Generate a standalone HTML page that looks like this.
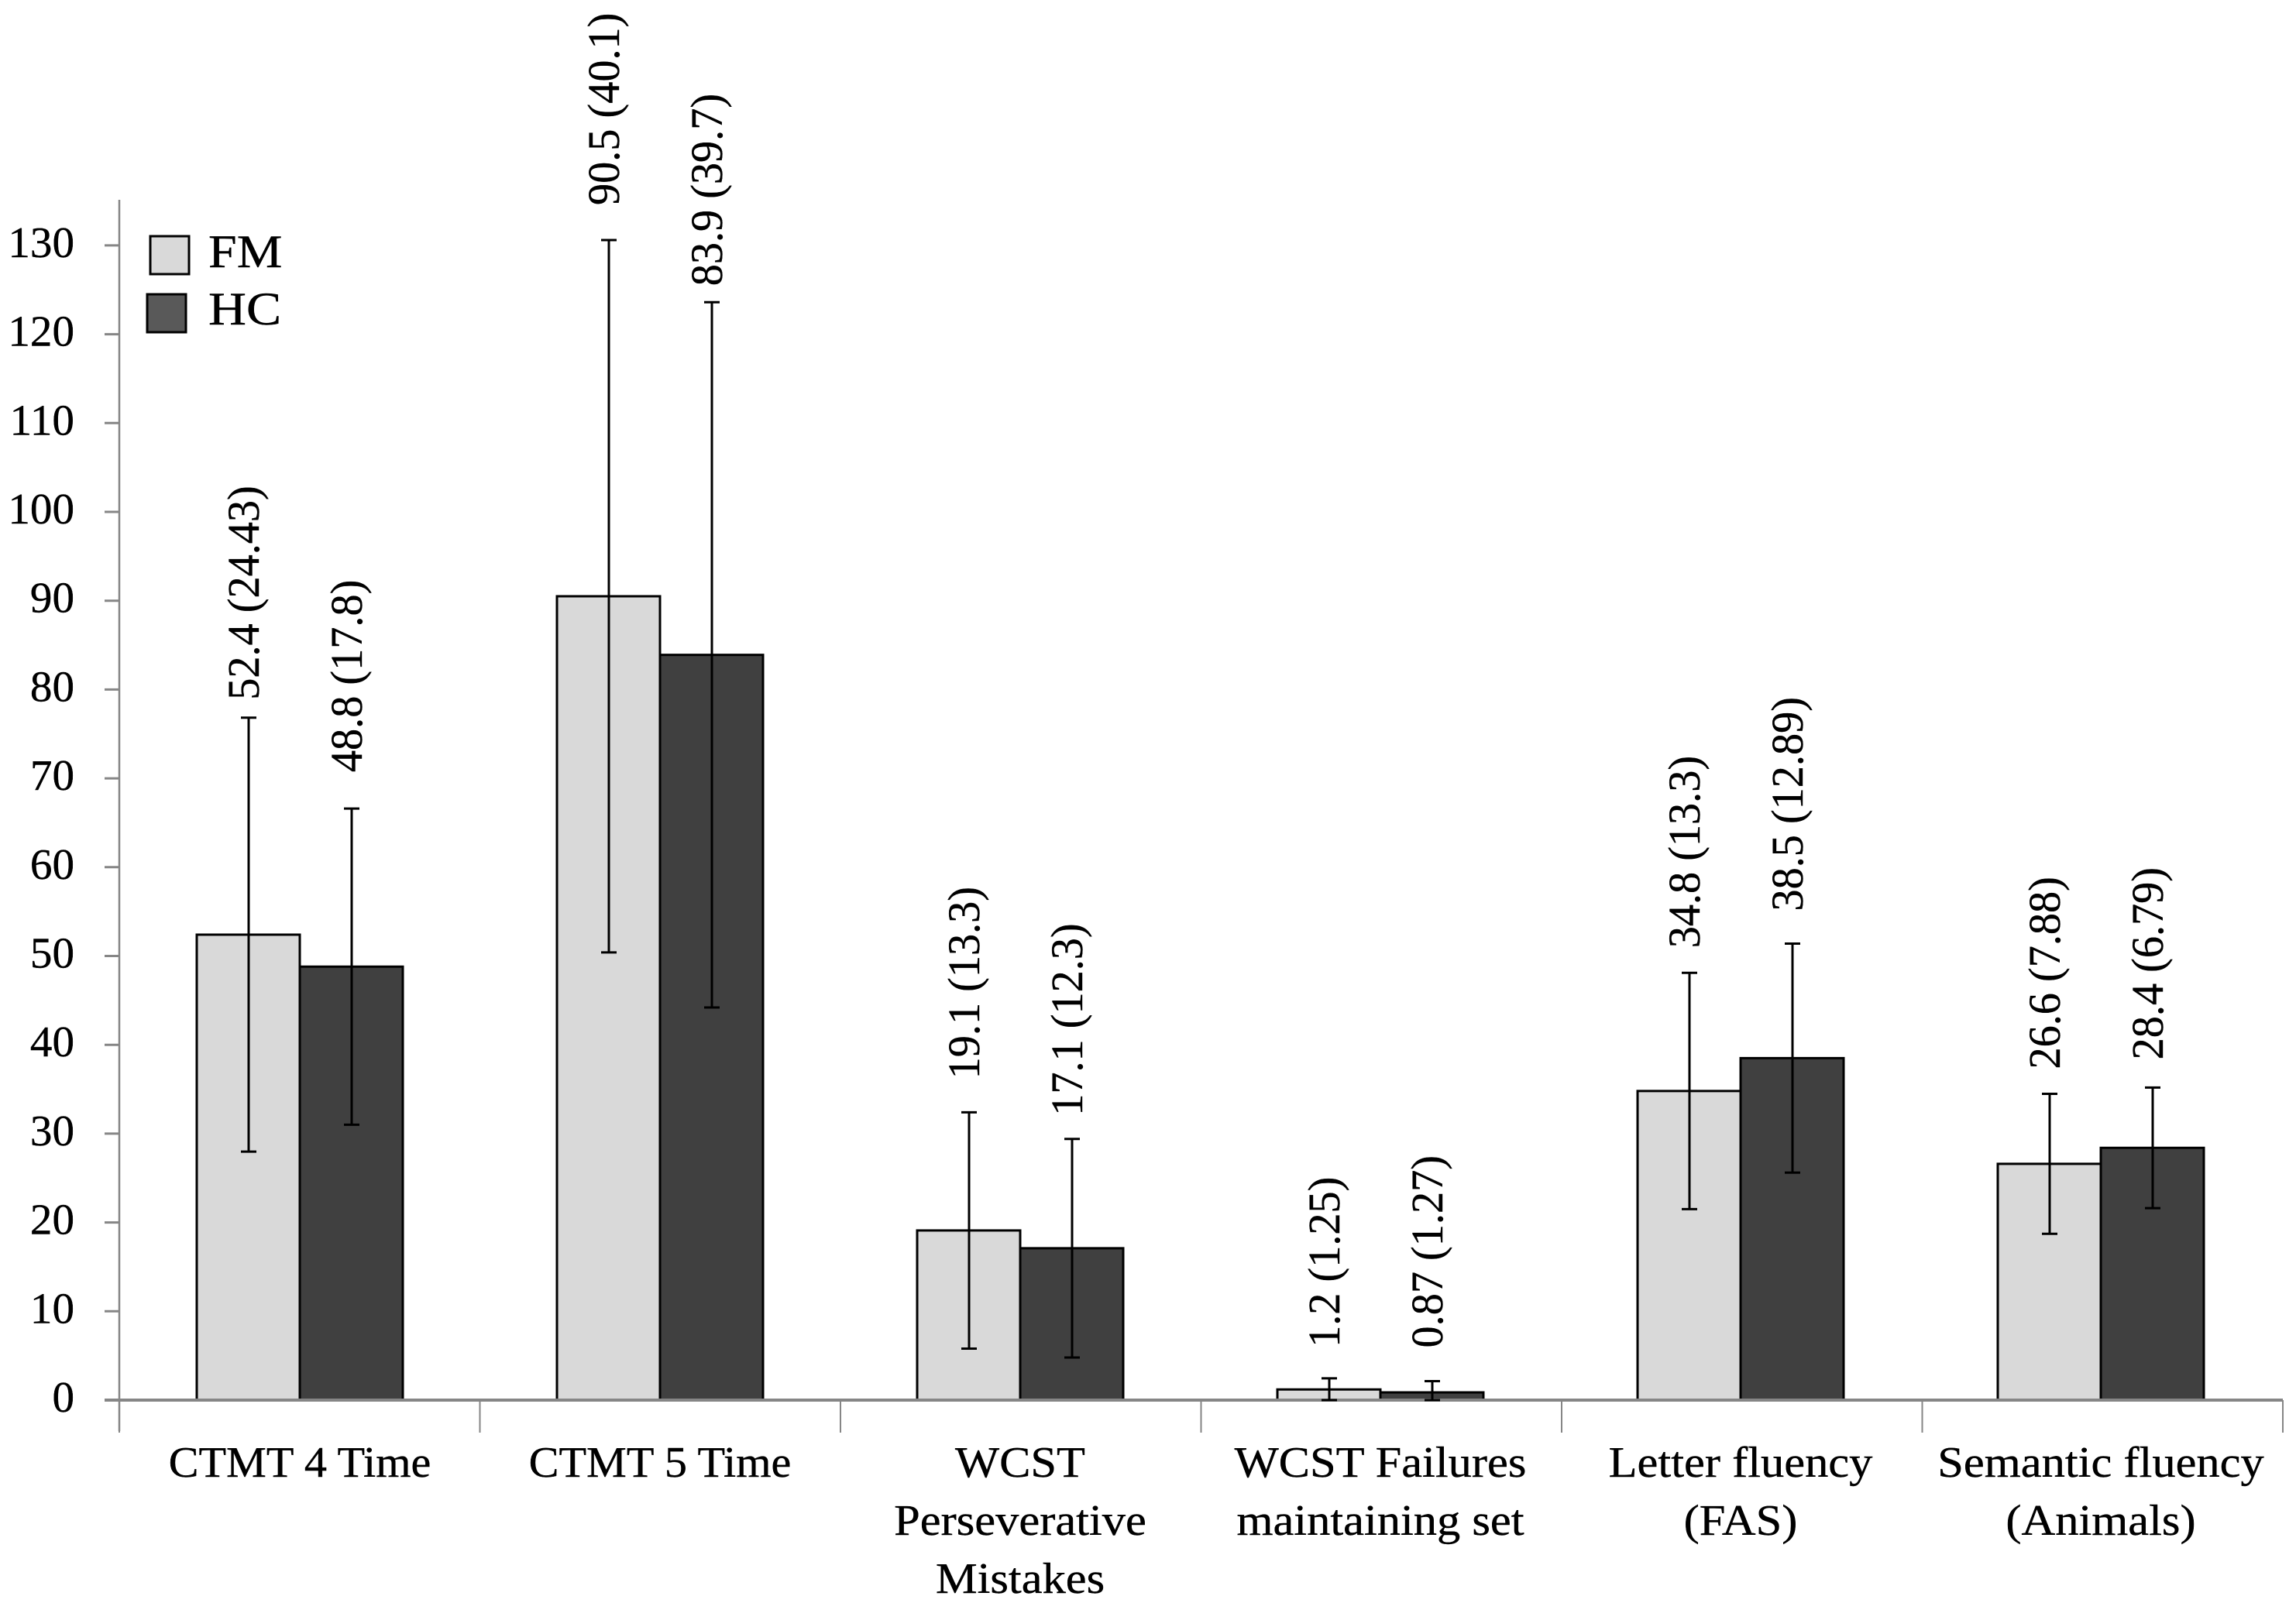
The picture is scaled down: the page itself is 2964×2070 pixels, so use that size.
<!DOCTYPE html>
<html lang="en">
<head>
<meta charset="utf-8">
<title>Neuropsychological test scores, FM vs HC</title>
<style>
  html, body { margin: 0; padding: 0; background: #fff; }
  svg { display: block; }
  text { font-family: "Liberation Serif", "DejaVu Serif", serif; fill: #000; stroke: #000; stroke-width: .4px; }
</style>
</head>
<body>
<svg id="chart" xmlns="http://www.w3.org/2000/svg" width="2964" height="2070" viewBox="0 0 2964 2070"></svg>
<script>
const categories = [
  ["CTMT 4 Time"],
  ["CTMT 5 Time"],
  ["WCST", "Perseverative", "Mistakes"],
  ["WCST Failures", "maintaining set"],
  ["Letter fluency", "(FAS)"],
  ["Semantic fluency", "(Animals)"]
];
const fmMeans = [52.4, 90.5, 19.1, 1.2, 34.8, 26.6];
const hcMeans = [48.8, 83.9, 17.1, 0.87, 38.5, 28.4];
const fmSds = [24.43, 40.1, 13.3, 1.25, 13.3, 7.88];
const hcSds = [17.8, 39.7, 12.3, 1.27, 12.89, 6.79];
const fmLabels = ["52.4 (24.43)", "90.5 (40.1)", "19.1 (13.3)", "1.2 (1.25)", "34.8 (13.3)", "26.6 (7.88)"];
const hcLabels = ["48.8 (17.8)", "83.9 (39.7)", "17.1 (12.3)", "0.87 (1.27)", "38.5 (12.89)", "28.4 (6.79)"];
const yTicks = [0, 10, 20, 30, 40, 50, 60, 70, 80, 90, 100, 110, 120, 130];

/* Layout only: hand-placed gap between each error-bar cap and its rotated label. */
const fmLabelGaps = [23, 45, 43, 40, 32, 32];
const hcLabelGaps = [47, 21, 30, 43, 42, 36];

const svg = document.getElementById('chart');
const NS = 'http://www.w3.org/2000/svg';
const AXIS = '#868686';
const baseY = 1808, unitY = 11.47;
const axisLeft = 154, axisRight = 2947, axisTop = 258;
const firstCenter = 387, centerStep = 465, barWidth = 133;

function yScale(v) { return baseY - v * unitY; }
function xCenter(i) { return firstCenter + centerStep * i; }
function make(tag, attrs, text) {
  const el = document.createElementNS(NS, tag);
  for (const k in attrs) el.setAttribute(k, attrs[k]);
  if (text !== undefined) el.textContent = text;
  svg.appendChild(el);
  return el;
}

/* Bars */
function drawBars(means, side, fill, series) {
  means.forEach(function (m, i) {
    const x = side < 0 ? xCenter(i) - barWidth : xCenter(i);
    const el = make('rect', { x: x, y: yScale(m), width: barWidth, height: baseY - yScale(m), fill: fill, stroke: '#000', 'stroke-width': 3 });
    
    
  });
}
drawBars(fmMeans, -1, '#d9d9d9', 'fm');
drawBars(hcMeans, 1, '#404040', 'hc');

/* Axes */
const yAxisLine = make('line', { x1: axisLeft, y1: axisTop, x2: axisLeft, y2: baseY + 40, stroke: AXIS, 'stroke-width': 2.5 });


const xAxisLine = make('line', { x1: 135, y1: baseY, x2: axisRight, y2: baseY, stroke: AXIS, 'stroke-width': 4 });



yTicks.forEach(function (t) {
  const tick = make('line', { x1: 135, y1: yScale(t), x2: axisLeft, y2: yScale(t), stroke: AXIS, 'stroke-width': 3 });
  
  
  const label = make('text', { 'font-size': 56, 'text-anchor': 'end', transform: 'translate(96,' + (yScale(t) + 15) + ') scale(1.02,1)' }, String(t));
  
  
});

for (let i = 0; i <= categories.length; i++) {
  const xt = axisLeft + (axisRight - axisLeft) * i / categories.length;
  const tick = make('line', { x1: xt, y1: baseY, x2: xt, y2: baseY + 42, stroke: AXIS, 'stroke-width': 2 });
  
  
}

categories.forEach(function (lines, i) {
  lines.forEach(function (line, j) {
    const stretch = /\d/.test(line) ? 1.04 : 1.08;
    const label = make('text', { 'font-size': 56, 'text-anchor': 'middle', transform: 'translate(' + xCenter(i) + ',' + (1907 + 75 * j) + ') scale(' + stretch + ',1)' }, line);
    
    
  });
});

/* Error bars and rotated value labels */
function drawErrors(means, sds, labels, gaps, side, series) {
  means.forEach(function (m, i) {
    const x = xCenter(i) + side * barWidth / 2 + 0.5;
    const top = yScale(m + sds[i]);
    const bottom = yScale(Math.max(0, m - sds[i]));
    const stem = make('line', { x1: x, y1: top, x2: x, y2: bottom, stroke: '#000', 'stroke-width': 3 });
    
    
    const capTop = make('line', { x1: x - 10, y1: top, x2: x + 10, y2: top, stroke: '#000', 'stroke-width': 3 });
    
    
    const capBottom = make('line', { x1: x - 10, y1: bottom, x2: x + 10, y2: bottom, stroke: '#000', 'stroke-width': 3 });
    
    
    const label = make('text', { 'font-size': 58, transform: 'translate(' + (x + 13) + ',' + (top - gaps[i]) + ') rotate(-90) scale(.97,1)' }, labels[i]);
    
    
  });
}
drawErrors(fmMeans, fmSds, fmLabels, fmLabelGaps, -1, 'fm');
drawErrors(hcMeans, hcSds, hcLabels, hcLabelGaps, 1, 'hc');

/* Legend */
const fmSwatch = make('rect', { x: 194, y: 305, width: 50, height: 49, fill: '#d9d9d9', stroke: '#000', 'stroke-width': 3 });


const fmText = make('text', { 'font-size': 60, transform: 'translate(269,345) scale(1.1,1)' }, 'FM');


const hcSwatch = make('rect', { x: 190, y: 380, width: 50, height: 49, fill: '#595959', stroke: '#000', 'stroke-width': 3 });


const hcText = make('text', { 'font-size': 60, transform: 'translate(269,419) scale(1.13,1)' }, 'HC');


</script>
</body>
</html>
